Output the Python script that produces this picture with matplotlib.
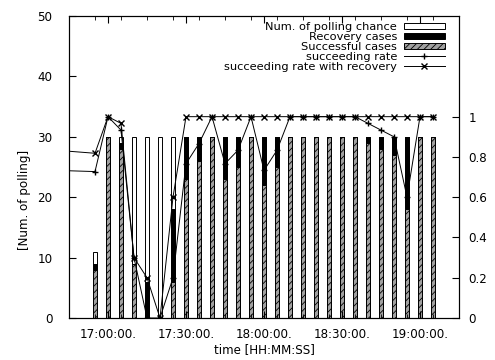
import matplotlib.pyplot as plt

# polling slots (5 min), first one is just left of the visible range
times = ["16:40", "16:55", "17:00", "17:05", "17:10", "17:15", "17:20", "17:25",
         "17:30", "17:35", "17:40", "17:45", "17:50", "17:55", "18:00", "18:05",
         "18:10", "18:15", "18:20", "18:25", "18:30", "18:35", "18:40", "18:45",
         "18:50", "18:55", "19:00", "19:05"]
polling = [30, 11, 30, 30, 30, 30, 30, 30,
           30, 30, 30, 30, 30, 30, 30, 30,
           30, 30, 30, 30, 30, 30, 30, 30,
           30, 30, 30, 30]
recovery = [25, 9, 30, 29, 9, 6, 0, 18,
            30, 30, 30, 30, 30, 30, 30, 30,
            30, 30, 30, 30, 30, 30, 30, 30,
            30, 30, 30, 30]
successful = [22, 8, 30, 28, 9, 0, 0, 6,
              23, 26, 30, 23, 25, 30, 22, 25,
              30, 30, 30, 30, 30, 30, 29, 28,
              27, 18, 30, 30]

tick_times = ["17:00", "17:30", "18:00", "18:30", "19:00"]
tick_labels = ["17:00:00.", "17:30:00.", "18:00:00.", "18:30:00.", "19:00:00."]


def minutes(s):
    h, m = s.split(":")
    return int(h) * 60 + int(m)


x = [minutes(t) for t in times]
rate = [s / p for s, p in zip(successful, polling)]
rate_rec = [r / p for r, p in zip(recovery, polling)]

plt.rcParams['font.family'] = 'DejaVu Sans'
plt.rcParams['font.size'] = 8.6
plt.rcParams['hatch.linewidth'] = 0.6

fig = plt.figure(figsize=(4.95, 3.6), dpi=100)
ax = fig.add_axes([69 / 495, 1 - 318 / 360, 390 / 495, 302 / 360])

w = 1.9
ax.bar(x, polling, w, color='white', edgecolor='black', linewidth=0.7,
       label='Num. of polling chance')
ax.bar(x, recovery, w, color='black', edgecolor='black', linewidth=0.7,
       label='Recovery cases')
ax.bar(x, successful, w, color='#a0a0a0', edgecolor='black', hatch='/////',
       linewidth=0.7, label='Successful cases')

ax.set_xlim(minutes("16:45"), minutes("19:15"))
ax.set_ylim(0, 50)
ax.set_yticks(range(0, 51, 10))
ax.set_xticks([minutes(t) for t in tick_times])
ax.set_xticklabels(tick_labels)
ax.set_xticks(range(minutes("16:45"), minutes("19:15") + 1, 10), minor=True)
ax.tick_params(axis='x', which='major', direction='in', top=True, pad=7, length=5)
ax.tick_params(axis='x', which='minor', direction='in', top=True, length=3)
ax.tick_params(axis='y', direction='in', pad=12, length=5)

ax2 = ax.twinx()
ax2.plot(x, rate, color='black', lw=0.7, marker='+', ms=5,
         label='succeeding rate')
ax2.plot(x, rate_rec, color='black', lw=0.7, marker='x', ms=4,
         label='succeeding rate with recovery')
ax2.set_ylim(0, 1.5)
ax2.set_yticks([0, 0.2, 0.4, 0.6, 0.8, 1])
ax2.set_yticklabels(['0', '0.2', '0.4', '0.6', '0.8', '1'])
ax2.tick_params(direction='in', pad=7, length=5)

h1, l1 = ax.get_legend_handles_labels()
h2, l2 = ax2.get_legend_handles_labels()
ax2.legend(h1 + h2, l1 + l2, loc='upper right', bbox_to_anchor=(0.964, 0.98),
           frameon=False, markerfirst=False, handlelength=3.6, handleheight=0.5,
           labelspacing=0.0, handletextpad=0.6, borderpad=0, borderaxespad=0,
           fontsize=8.2)

fig.text(25 / 495, 1 - 200 / 360, '[Num. of polling]', rotation=90,
         ha='center', va='center')
fig.text(264 / 495, 1 - 350 / 360, 'time [HH:MM:SS]', ha='center', va='center')

fig.savefig('out.png', dpi=100)
